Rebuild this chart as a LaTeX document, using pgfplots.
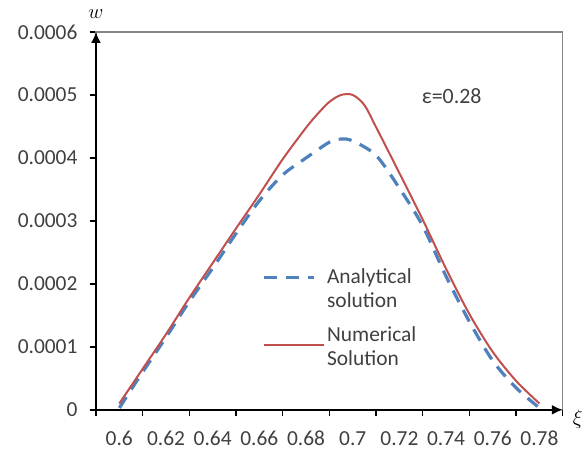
\documentclass[border=0pt]{standalone}
\usepackage{fontspec}
\setmainfont{Carlito}
\usepackage{pgfplots}
\pgfplotsset{compat=1.18}
\usetikzlibrary{arrows.meta}
\definecolor{ExcelBlue}{RGB}{79,129,189}
\definecolor{ExcelRed}{RGB}{192,80,77}
\definecolor{LabelGray}{RGB}{64,64,64}
\definecolor{FrameGray}{RGB}{134,134,134}
\pgfplotsset{
  blueleg/.style={legend image code/.code={\draw[##1] (0bp,11bp) -- (50bp,11bp);}},
  redleg/.style={legend image code/.code={\draw[##1] (0bp,2bp) -- (60bp,2bp);}},
}

\begin{document}
\begin{tikzpicture}
  \begin{axis}[
    scale only axis,
    width=467bp, height=378bp,
    xmin=0.59, xmax=0.79,
    ymin=0, ymax=0.0006,
    clip=false,
    axis line style={draw=FrameGray, line width=1.2bp},
    % tick marks between the labels, Excel style
    xtick={0.59,0.61,0.63,0.65,0.67,0.69,0.71,0.73,0.75,0.77,0.79},
    xticklabels={},
    extra x ticks={0.6,0.62,0.64,0.66,0.68,0.7,0.72,0.74,0.76,0.78},
    extra x tick labels={0.6,0.62,0.64,0.66,0.68,0.7,0.72,0.74,0.76,0.78},
    extra x tick style={major tick length=0pt,
      xticklabel style={yshift=-18bp}},
    xtick pos=bottom,
    ytick={0,0.0001,0.0002,0.0003,0.0004,0.0005,0.0006},
    yticklabels={0,0.0001,0.0002,0.0003,0.0004,0.0005,0.0006},
    ytick pos=left,
    scaled y ticks=false,
    yticklabel style={xshift=-9bp},
    tick align=outside,
    major tick length=6bp,
    tick style={black, line width=1.4bp},
    tick label style={font=\fontsize{21.5}{24}\selectfont, text=LabelGray},
    legend style={draw=none, fill=none,
      at={(rel axis cs:0.35,0.385)}, anchor=north west,
      font=\fontsize{21.5}{24}\selectfont, text=LabelGray,
      row sep=14bp,
      cells={anchor=west, align=left}},
  ]
  \addplot[ExcelBlue, line width=3.2bp, dash pattern=on 13bp off 9bp, smooth, blueleg]
    coordinates {
      (0.60,0.000003) (0.61,0.000060) (0.62,0.000115) (0.63,0.000172)
      (0.64,0.000225) (0.65,0.000280) (0.66,0.000332) (0.67,0.000373)
      (0.68,0.000400) (0.69,0.000425) (0.695,0.000430) (0.70,0.000427)
      (0.71,0.000404) (0.72,0.000352) (0.73,0.000292) (0.74,0.000212)
      (0.75,0.000140) (0.76,0.000078) (0.77,0.000035) (0.78,0.000003)
    };
  \addlegendentry{Analytical\\solution}
  \addplot[ExcelRed, line width=2bp, smooth, redleg]
    coordinates {
      (0.60,0.000010) (0.61,0.000065) (0.62,0.000120) (0.63,0.000178)
      (0.64,0.000233) (0.65,0.000288) (0.66,0.000342) (0.67,0.000398)
      (0.68,0.000448) (0.685,0.000470) (0.69,0.000489) (0.695,0.000500)
      (0.70,0.000500) (0.705,0.000484) (0.71,0.000449) (0.72,0.000376)
      (0.73,0.000302) (0.74,0.000224) (0.75,0.000152) (0.76,0.000092)
      (0.77,0.000046) (0.78,0.000010)
    };
  \addlegendentry{Numerical\\Solution}

  % black axis arrows on the left and bottom
  \draw[black, line width=1.8bp, -{Latex[length=11bp,width=10bp]}]
    (rel axis cs:0,0) -- (rel axis cs:0,1);
  \draw[black, line width=1.8bp, -{Latex[length=11bp,width=10bp]}]
    (rel axis cs:0,0) -- (rel axis cs:1,0);
  \node[font=\fontsize{22}{24}\selectfont] at ([yshift=18bp]rel axis cs:0,1) {$w$};
  \node[font=\fontsize{22}{24}\selectfont] at ([xshift=15bp,yshift=-10bp]rel axis cs:1,0) {$\xi$};
  \node[font=\fontsize{22}{24}\selectfont, text=LabelGray] at (axis cs:0.7424,0.000498) {ε=0.28};

  % page size as the reference
  \path (rel axis cs:0,0) ++(-96bp,-44bp) rectangle ++(586bp,454bp);
  \end{axis}
\end{tikzpicture}
\end{document}
